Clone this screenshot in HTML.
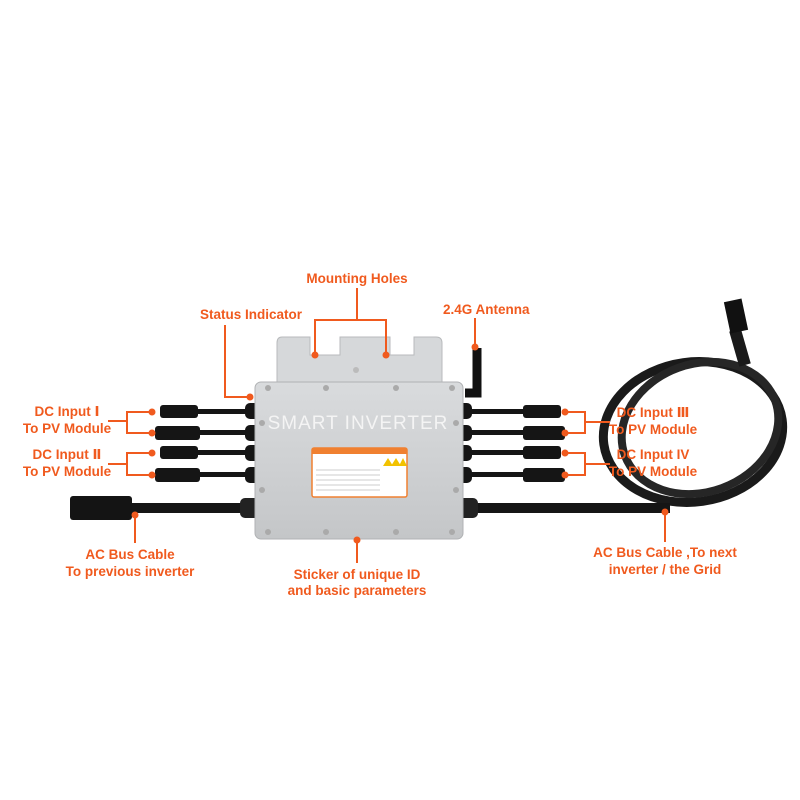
<!DOCTYPE html>
<html><head><meta charset="utf-8"><style>
html,body{margin:0;padding:0;background:#fff;}
svg{display:block;}
text{font-family:"Liberation Sans","DejaVu Sans",sans-serif;font-weight:bold;fill:#f05a1e;font-size:13.5px;}
</style></head><body>
<svg width="800" height="800" viewBox="0 0 800 800" xmlns="http://www.w3.org/2000/svg">
<defs>
<linearGradient id="body" x1="0" y1="0" x2="0" y2="1">
<stop offset="0" stop-color="#d9dbdd"/><stop offset="0.5" stop-color="#cfd1d3"/><stop offset="1" stop-color="#c4c6c8"/>
</linearGradient>
</defs>
<ellipse cx="693" cy="432" rx="90" ry="70" fill="none" stroke="#1a1a1a" stroke-width="9" transform="rotate(-8 693 432)"/>
<ellipse cx="700" cy="428" rx="80" ry="64" fill="none" stroke="#262626" stroke-width="8" transform="rotate(-20 700 428)"/>
<path d="M745 365 L735 330" stroke="#1a1a1a" stroke-width="12"/>
<rect x="727" y="300" width="18" height="32" fill="#111" transform="rotate(-12 736 316)"/>
<rect x="130" y="503" width="130" height="10" fill="#151515"/>
<rect x="70" y="496" width="62" height="24" rx="3" fill="#141414"/>
<rect x="460" y="503" width="210" height="10" fill="#151515"/>
<rect x="240" y="498" width="20" height="20" rx="5" fill="#222"/>
<rect x="458" y="498" width="20" height="20" rx="5" fill="#222"/>
<g fill="#151515">
<rect x="190" y="409" width="60" height="5"/><rect x="190" y="430" width="60" height="5"/>
<rect x="190" y="450" width="60" height="5"/><rect x="190" y="472" width="60" height="5"/>
<rect x="160" y="405" width="38" height="13" rx="3"/><rect x="155" y="426" width="45" height="14" rx="3"/>
<rect x="160" y="446" width="38" height="13" rx="3"/><rect x="155" y="468" width="45" height="14" rx="3"/>
<rect x="245" y="403" width="14" height="16" rx="5"/><rect x="245" y="425" width="14" height="16" rx="5"/>
<rect x="245" y="445" width="14" height="16" rx="5"/><rect x="245" y="467" width="14" height="16" rx="5"/>
<rect x="465" y="409" width="65" height="5"/><rect x="465" y="430" width="65" height="5"/>
<rect x="465" y="450" width="65" height="5"/><rect x="465" y="472" width="65" height="5"/>
<rect x="523" y="405" width="38" height="13" rx="3"/><rect x="523" y="426" width="42" height="14" rx="3"/>
<rect x="523" y="446" width="38" height="13" rx="3"/><rect x="523" y="468" width="42" height="14" rx="3"/>
<rect x="458" y="403" width="14" height="16" rx="5"/><rect x="458" y="425" width="14" height="16" rx="5"/>
<rect x="458" y="445" width="14" height="16" rx="5"/><rect x="458" y="467" width="14" height="16" rx="5"/>
</g>
<path d="M477 348 L477 393 L465 393" fill="none" stroke="#111" stroke-width="9"/>
<path d="M282 337 L310 337 L310 355 L340 355 L340 337 L390 337 L390 355 L414 355 L414 337 L436 337 Q442 337 442 343 L442 385 L277 385 L277 343 Q277 337 282 337 Z" fill="#d6d8da" stroke="#b8babc"/>
<circle cx="356" cy="370" r="3" fill="#bbb"/>
<rect x="255" y="382" width="208" height="157" rx="6" fill="url(#body)" stroke="#b0b2b4"/>
<g fill="#aaa">
<circle cx="268" cy="388" r="3"/><circle cx="326" cy="388" r="3"/><circle cx="396" cy="388" r="3"/><circle cx="452" cy="388" r="3"/>
<circle cx="262" cy="423" r="3"/><circle cx="456" cy="423" r="3"/><circle cx="262" cy="490" r="3"/><circle cx="456" cy="490" r="3"/>
<circle cx="268" cy="532" r="3"/><circle cx="326" cy="532" r="3"/><circle cx="396" cy="532" r="3"/><circle cx="452" cy="532" r="3"/>
</g>
<text x="358" y="429" text-anchor="middle" style="fill:#f4f4f4;font-weight:normal;font-size:19px;letter-spacing:1px">SMART INVERTER</text>
<rect x="312" y="448" width="95" height="49" rx="2" fill="#fff" stroke="#f08030" stroke-width="1.5"/>
<rect x="312" y="448" width="95" height="6" fill="#f08030"/>
<g fill="#f2c200"><path d="M383 466 l5 -8 l5 8z"/><path d="M391 466 l5 -8 l5 8z"/><path d="M399 466 l4 -8 l4 8z"/></g>
<g stroke="#ccc" stroke-width="1"><line x1="316" y1="470" x2="380" y2="470"/><line x1="316" y1="475" x2="380" y2="475"/><line x1="316" y1="480" x2="380" y2="480"/><line x1="316" y1="485" x2="380" y2="485"/><line x1="316" y1="490" x2="380" y2="490"/></g>
<g stroke="#f05a1e" stroke-width="2" fill="none">
<path d="M357 288 L357 320 M315 355 L315 320 L386 320 L386 355"/>
<path d="M225 325 L225 397 L250 397"/>
<path d="M475 318 L475 347"/>
<path d="M108 421 L127 421 M152 412 L127 412 L127 433 L152 433"/>
<path d="M108 464 L127 464 M152 453 L127 453 L127 475 L152 475"/>
<path d="M135 515 L135 543"/>
<path d="M357 540 L357 563"/>
<path d="M610 422 L585 422 M565 412 L585 412 L585 433 L565 433"/>
<path d="M610 464 L585 464 M565 453 L585 453 L585 475 L565 475"/>
<path d="M665 512 L665 542"/>
</g>
<g fill="#f05a1e">
<circle cx="315" cy="355" r="3.5"/><circle cx="386" cy="355" r="3.5"/><circle cx="250" cy="397" r="3.5"/><circle cx="475" cy="347" r="3.5"/>
<circle cx="152" cy="412" r="3.5"/><circle cx="152" cy="433" r="3.5"/><circle cx="152" cy="453" r="3.5"/><circle cx="152" cy="475" r="3.5"/>
<circle cx="565" cy="412" r="3.5"/><circle cx="565" cy="433" r="3.5"/><circle cx="565" cy="453" r="3.5"/><circle cx="565" cy="475" r="3.5"/>
<circle cx="135" cy="515" r="3.5"/><circle cx="357" cy="540" r="3.5"/><circle cx="665" cy="512" r="3.5"/>
</g>
<text x="357" y="283" text-anchor="middle">Mounting Holes</text>
<text x="200" y="319">Status Indicator</text>
<text x="443" y="314">2.4G Antenna</text>
<text x="67" y="416" text-anchor="middle">DC Input  Ⅰ</text>
<text x="67" y="433" text-anchor="middle">To PV Module</text>
<text x="67" y="459" text-anchor="middle">DC Input Ⅱ</text>
<text x="67" y="476" text-anchor="middle">To PV Module</text>
<text x="653" y="417" text-anchor="middle">DC Input Ⅲ</text>
<text x="653" y="434" text-anchor="middle">To PV Module</text>
<text x="653" y="459" text-anchor="middle">DC Input IV</text>
<text x="653" y="476" text-anchor="middle">To PV Module</text>
<text x="130" y="559" text-anchor="middle">AC Bus Cable</text>
<text x="130" y="576" text-anchor="middle">To previous inverter</text>
<text x="357" y="579" text-anchor="middle">Sticker of unique ID</text>
<text x="357" y="595" text-anchor="middle">and basic parameters</text>
<text x="665" y="557" text-anchor="middle">AC Bus Cable ,To next</text>
<text x="665" y="574" text-anchor="middle">inverter / the Grid</text>
</svg>
</body></html>
